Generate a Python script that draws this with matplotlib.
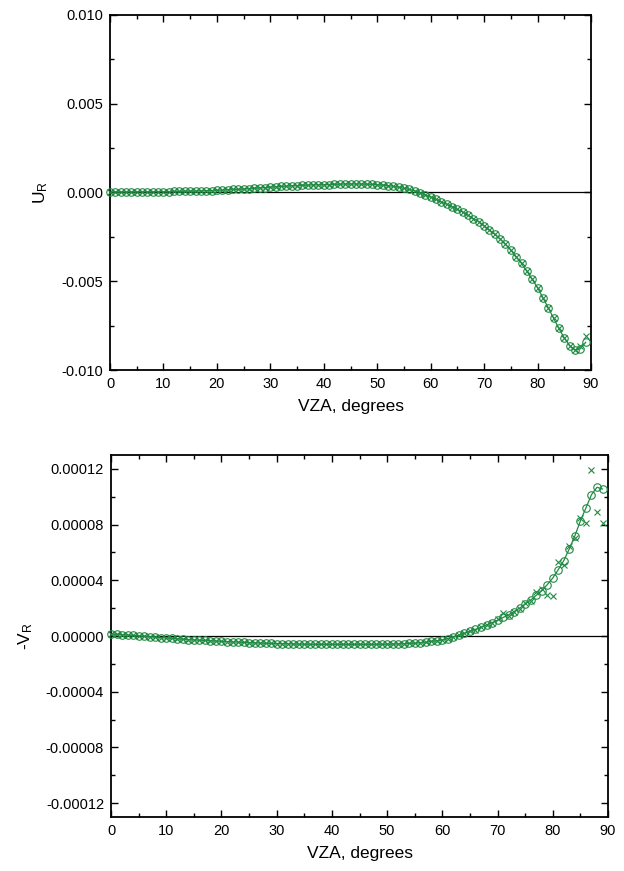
import numpy as np
import matplotlib
matplotlib.use('Agg')
import matplotlib.pyplot as plt
from matplotlib.ticker import MultipleLocator, FormatStrFormatter

plt.rcParams['font.family'] = ['Liberation Sans', 'DejaVu Sans']
plt.rcParams['mathtext.fontset'] = 'custom'
plt.rcParams['mathtext.rm'] = 'Liberation Sans'
plt.rcParams['mathtext.it'] = 'Liberation Sans'

# --------------------------
# Data
# --------------------------
vza = list(range(90))

# U_R, circles (model A)
u_circ = [
    0.00003, 0.00003, 0.00003, 0.00003, 0.00003, 0.00004, 0.00004, 0.00004, 0.00004, 0.00005,
    0.00005, 0.00005, 0.00006, 0.00006, 0.00007, 0.00008, 0.00008, 0.00009, 0.00010, 0.00011,
    0.00012, 0.00014, 0.00015, 0.00017, 0.00018, 0.00020, 0.00022, 0.00024, 0.00026, 0.00028,
    0.00030, 0.00032, 0.00034, 0.00036, 0.00038, 0.00039, 0.00041, 0.00042, 0.00043, 0.00044,
    0.00044, 0.00045, 0.00046, 0.00047, 0.00048, 0.00048, 0.00048, 0.00048, 0.00047, 0.00046,
    0.00044, 0.00042, 0.00039, 0.00035, 0.00030, 0.00024, 0.00017, 0.00009, -0.00001, -0.00013,
    -0.00026, -0.00038, -0.00053, -0.00066, -0.00079, -0.00094, -0.00111, -0.00128, -0.00147, -0.00164,
    -0.00187, -0.00211, -0.00236, -0.00262, -0.00291, -0.00325, -0.00362, -0.00400, -0.00443, -0.00489,
    -0.00536, -0.00593, -0.00649, -0.00708, -0.00766, -0.00819, -0.00862, -0.00887, -0.00881, -0.00844,
]
# U_R, crosses (model B)
u_cross = u_circ[:88] + [-0.00862, -0.00806]

# -V_R, circles
v_circ = [
    1.4e-6, 1.2e-6, 1.0e-6, 0.7e-6, 0.4e-6, 0.1e-6, -0.2e-6, -0.5e-6, -0.8e-6, -1.1e-6,
    -1.4e-6, -1.7e-6, -2.0e-6, -2.3e-6, -2.6e-6, -2.8e-6, -3.0e-6, -3.2e-6, -3.4e-6, -3.6e-6,
    -3.8e-6, -4.0e-6, -4.2e-6, -4.4e-6, -4.6e-6, -4.7e-6, -4.9e-6, -5.0e-6, -5.2e-6, -5.3e-6,
    -5.4e-6, -5.5e-6, -5.6e-6, -5.7e-6, -5.8e-6, -5.9e-6, -5.9e-6, -6.0e-6, -6.0e-6, -6.0e-6,
    -6.0e-6, -6.0e-6, -6.0e-6, -6.0e-6, -6.0e-6, -6.0e-6, -6.0e-6, -6.0e-6, -6.0e-6, -5.9e-6,
    -5.9e-6, -5.8e-6, -5.7e-6, -5.5e-6, -5.3e-6, -5.1e-6, -4.8e-6, -4.4e-6, -3.9e-6, -3.4e-6,
    -2.9e-6, -1.8e-6, -0.6e-6, 0.6e-6, 1.9e-6, 3.4e-6, 4.8e-6, 6.3e-6, 8.0e-6, 9.6e-6,
    11.3e-6, 13.3e-6, 15.2e-6, 17.6e-6, 20.0e-6, 22.9e-6, 25.8e-6, 29.2e-6, 32.5e-6, 36.9e-6,
    41.7e-6, 47.7e-6, 54.2e-6, 62.7e-6, 72.0e-6, 82.7e-6, 92.0e-6, 101.5e-6, 106.8e-6, 105.6e-6,
]
# -V_R, crosses (noisier at grazing angles)
v_cross = v_circ[:66] + [
    4.6e-6, 6.6e-6, 7.6e-6, 9.2e-6,
    12.0e-6, 16.4e-6, 14.6e-6, 17.0e-6, 19.5e-6, 23.5e-6, 25.2e-6, 31.6e-6, 34.0e-6, 29.6e-6,
    28.5e-6, 53.0e-6, 51.0e-6, 65.0e-6, 70.6e-6, 85.0e-6, 81.0e-6, 119.0e-6, 89.0e-6, 81.0e-6,
]

green = '#1f8a42'


def style_axes(ax, major_y, minor_y, fmt, ylim):
    ax.set_xlim(0, 90)
    ax.set_ylim(*ylim)
    ax.xaxis.set_major_locator(MultipleLocator(10))
    ax.xaxis.set_minor_locator(MultipleLocator(5))
    ax.yaxis.set_major_locator(MultipleLocator(major_y))
    ax.yaxis.set_minor_locator(MultipleLocator(minor_y))
    ax.yaxis.set_major_formatter(FormatStrFormatter(fmt))
    ax.tick_params(which='both', direction='in', top=True, right=True,
                   width=1.0, labelsize=10.5, colors='black')
    ax.tick_params(which='major', length=5, pad=5)
    ax.tick_params(which='minor', length=3)
    for s in ax.spines.values():
        s.set_linewidth(1.3)
    ax.axhline(0, color='black', linewidth=0.9, zorder=1)
    ax.set_xlabel('VZA, degrees', fontsize=12.5, labelpad=6)


def draw_series(ax, circ, cross):
    ax.plot(vza, circ, color=green, linewidth=0.9, zorder=2)
    ax.plot(vza, circ, 'o', mfc='none', mec=green, ms=5.4, mew=0.8,
            zorder=3, clip_on=False)
    ax.plot(vza, cross, 'x', color=green, ms=3.8, mew=0.8,
            zorder=3, clip_on=False)


fig = plt.figure(figsize=(6.24, 8.71), dpi=100)

# Top panel: U_R
ax1 = fig.add_axes([0.1763, 0.5752, 0.7708, 0.4076])
draw_series(ax1, u_circ, u_cross)
style_axes(ax1, 0.005, 0.0025, '%.3f', (-0.010, 0.010))
ax1.set_ylabel(r'U$_{\mathrm{R}}$', fontsize=12.5, labelpad=8)

# Bottom panel: -V_R
ax2 = fig.add_axes([0.1779, 0.0620, 0.7965, 0.4156])
draw_series(ax2, v_circ, v_cross)
style_axes(ax2, 0.00004, 0.00002, '%.5f', (-0.00013, 0.00013))
ax2.set_ylabel(r'-V$_{\mathrm{R}}$', fontsize=12.5, labelpad=8)

fig.savefig('out.png', dpi=100)
